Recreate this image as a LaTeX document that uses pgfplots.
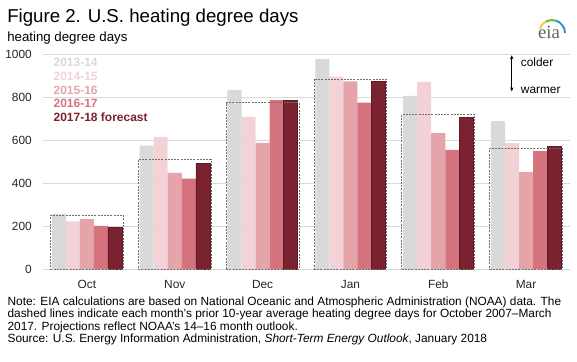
\documentclass[border=0pt]{standalone}
\usepackage{pgfplots}
\pgfplotsset{compat=1.18}
\usetikzlibrary{arrows.meta}
\usepackage{fontspec}
\setmainfont{Liberation Sans}
\newfontfamily\serifeia{Liberation Serif}
\definecolor{c1}{HTML}{D9D9D9}
\definecolor{c2}{HTML}{F2D2D7}
\definecolor{c3}{HTML}{E5A3AA}
\definecolor{c4}{HTML}{D5737E}
\definecolor{c5}{HTML}{7A2230}
\definecolor{gridc}{HTML}{D9D9D9}
\definecolor{boxc}{HTML}{707070}
\pgfplotstableread{
x y1 y2 y3 y4 y5 n
0 257 221 232 201 193 250
1 574 615 447 420 493 510
2 833 708 587 785 785 774
3 976 895 873 774 873 884
4 805 870 632 554 705 719
5 688 585 452 548 570 562
}\hdd
\begin{document}
\begin{tikzpicture}
\useasboundingbox (0,0) rectangle (432.75pt,-270.75pt);
\begin{axis}[
  at={(32.25pt,-201.75pt)}, anchor=south west,
  scale only axis, width=395.25pt, height=161.25pt,
  xmin=-0.5, xmax=5.5, ymin=0, ymax=1000,
  xtick={0,...,5}, xticklabels={Oct,Nov,Dec,Jan,Feb,Mar},
  ytick={0,200,...,1000},
  axis line style={draw=none},
  major tick length=0pt,
  ymajorgrids, grid style={gridc, line width=0.75pt},
  /pgf/number format/assume math mode=true,
  /pgf/number format/1000 sep={},
  tick label style={font=\fontsize{8.9}{10}\selectfont, text=black!85},
  xticklabel style={anchor=base, inner sep=0pt, yshift=-14.8pt},
  yticklabel style={anchor=east, inner sep=0pt, xshift=-8.25pt},
  clip=false,
]
\addplot[ybar, bar width=0.16, bar shift=-0.32, fill=c1, draw=none] table[x=x,y=y1]{\hdd};
\addplot[ybar, bar width=0.16, bar shift=-0.16, fill=c2, draw=none] table[x=x,y=y2]{\hdd};
\addplot[ybar, bar width=0.16, bar shift=0, fill=c3, draw=none] table[x=x,y=y3]{\hdd};
\addplot[ybar, bar width=0.16, bar shift=0.16, fill=c4, draw=none] table[x=x,y=y4]{\hdd};
\addplot[ybar, bar width=0.16, bar shift=0.32, fill=c5, draw=c5!80!black, line width=0.4pt] table[x=x,y=y5]{\hdd};
\addplot[ybar, bar width=0.83, bar shift=0, fill=none, draw=boxc, line width=0.6pt, dash pattern=on 1.5pt off 0.9pt] table[x=x,y=n]{\hdd};
\end{axis}
% title and subtitle
\node[anchor=base west, inner sep=0pt, font=\fontsize{14}{16}\selectfont] at (5.25pt,-16.5pt) {Figure 2. U.S. heating degree days};
\node[anchor=base west, inner sep=0pt, font=\fontsize{9.95}{11}\selectfont] at (5.25pt,-31.3pt) {heating degree days};
% in-plot legend
\begin{scope}[every node/.style={anchor=base west, inner sep=0pt, font=\fontsize{9}{11}\selectfont\bfseries}]
\node[text=c1] at (40pt,-50pt) {2013-14};
\node[text=c2] at (40pt,-60.3pt) {2014-15};
\node[text=c3] at (40pt,-70.6pt) {2015-16};
\node[text=c4] at (40pt,-80.9pt) {2016-17};
\node[text=c5] at (40pt,-91.2pt) {2017-18 forecast};
\end{scope}
% colder / warmer
\draw[{Stealth[length=3pt,width=2.6pt]}-{Stealth[length=3pt,width=2.6pt]}, line width=0.6pt] (383.8pt,-41.5pt) -- (383.8pt,-68.5pt);
\node[anchor=base west, inner sep=0pt, font=\fontsize{8.9}{10}\selectfont] at (390.5pt,-49.5pt) {colder};
\node[anchor=base west, inner sep=0pt, font=\fontsize{8.9}{10}\selectfont] at (390.5pt,-70pt) {warmer};
% note
\begin{scope}[every node/.style={anchor=base west, inner sep=0pt, font=\fontsize{8.9}{10}\selectfont}]
\node at (5.5pt,-228.75pt) {Note: EIA calculations are based on National Oceanic and Atmospheric Administration (NOAA) data. The};
\node at (5.5pt,-238.1pt) {dashed lines indicate each month's prior 10-year average heating degree days for October 2007–March};
\node at (5.5pt,-247.9pt) {2017. Projections reflect NOAA's 14–16 month outlook.};
\node at (5.5pt,-257pt) {Source: U.S. Energy Information Administration, \textit{Short-Term Energy Outlook}, January 2018};
\end{scope}
% eia logo
\node[anchor=base, inner sep=0pt, font=\serifeia\fontsize{14}{15}\selectfont, text=black!62] at (411.75pt,-28.7pt) {eia};
\draw[line width=1.4pt, color={rgb,255:red,245;green,205;blue,50}] (414pt,-24.75pt) ++(160:9.75pt) arc[start angle=160, end angle=118, radius=9.75pt];
\draw[line width=1.6pt, color={rgb,255:red,125;green,185;blue,65}] (414pt,-24.75pt) ++(118:9.75pt) arc[start angle=118, end angle=72, radius=9.75pt];
\draw[line width=1.4pt, color={rgb,255:red,35;green,145;blue,205}] (414pt,-24.75pt) ++(72:9.75pt) arc[start angle=72, end angle=0, radius=9.75pt];
\end{tikzpicture}
\end{document}
